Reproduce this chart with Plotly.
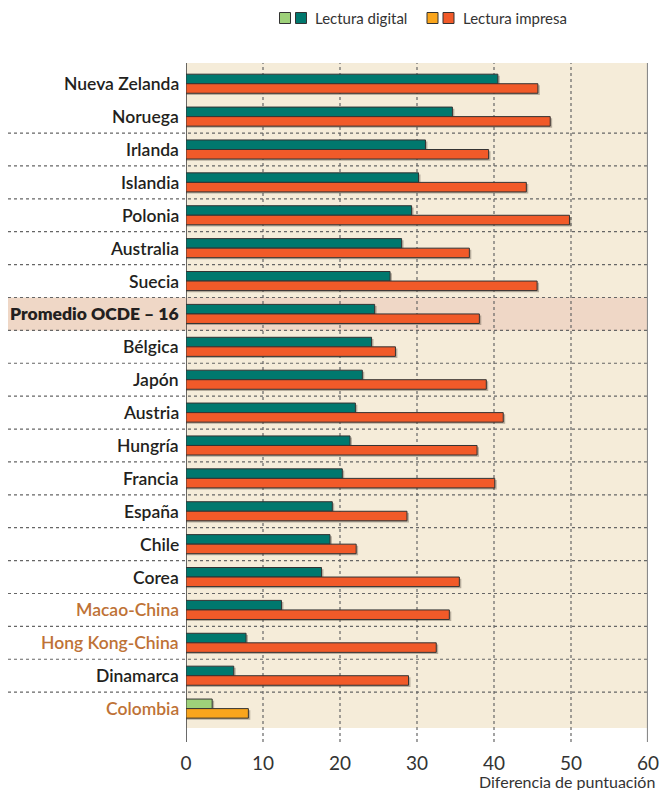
import plotly.graph_objects as go

countries = ["Nueva Zelanda", "Noruega", "Irlanda", "Islandia", "Polonia", "Australia",
             "Suecia", "Promedio OCDE – 16", "Bélgica", "Japón", "Austria", "Hungría",
             "Francia", "España", "Chile", "Corea", "Macao-China", "Hong Kong-China",
             "Dinamarca", "Colombia"]
digital = [40.5, 34.6, 31.1, 30.2, 29.3, 28.0, 26.5, 24.5, 24.1, 22.9, 22.0, 21.3,
           20.3, 19.0, 18.7, 17.6, 12.4, 7.8, 6.2, 3.4]
impresa = [45.7, 47.3, 39.3, 44.2, 49.8, 36.8, 45.6, 38.1, 27.2, 39.0, 41.2, 37.8,
           40.1, 28.7, 22.1, 35.5, 34.2, 32.5, 28.9, 8.1]
partner = ["Macao-China", "Hong Kong-China", "Colombia"]
highlight_country = "Colombia"
average_label = "Promedio OCDE – 16"
x_ticks = [0, 10, 20, 30, 40, 50, 60]
x_title = "Diferencia de puntuación"
legend_labels = ["Lectura digital", "Lectura impresa"]

C_DIG, C_DIG_L = "#00786E", "#9ED17A"
C_IMP, C_IMP_L = "#F15A29", "#F9A51C"
BG = "#F5ECD9"
BAND = "#EFD7C6"
DARK = "#231F20"
BROWN = "#BE7236"
FONT = "Lato"

W, H = 662, 790
PL, PR, PT, PB = 186, 648, 63, 728   # plot area in page pixels


def px(xp):
    return (xp - PL) / (PR - PL)


def py(yp):
    return (PB - yp) / (PB - PT)


n = len(countries)
ys = list(range(n))
BW = 0.29

dig_colors = [C_DIG_L if c == highlight_country else C_DIG for c in countries]
imp_colors = [C_IMP_L if c == highlight_country else C_IMP for c in countries]

fig = go.Figure()
shadow = "rgba(70,60,50,0.35)"
fig.add_trace(go.Bar(y=ys, x=[v + 0.25 for v in digital], orientation="h", base=0,
                     offset=-BW + 0.05, width=BW, marker=dict(color=shadow, line=dict(width=0)),
                     hoverinfo="skip"))
fig.add_trace(go.Bar(y=ys, x=[v + 0.25 for v in impresa], orientation="h", base=0,
                     offset=0.05, width=BW, marker=dict(color=shadow, line=dict(width=0)),
                     hoverinfo="skip"))
fig.add_trace(go.Bar(y=ys, x=digital, orientation="h", name=legend_labels[0],
                     offset=-BW, width=BW,
                     marker=dict(color=dig_colors, line=dict(color="#333333", width=1))))
fig.add_trace(go.Bar(y=ys, x=impresa, orientation="h", name=legend_labels[1],
                     offset=0, width=BW,
                     marker=dict(color=imp_colors, line=dict(color="#333333", width=1))))

shapes = []
ai = countries.index(average_label)
shapes.append(dict(type="rect", xref="paper", yref="y", x0=px(8), x1=1,
                   y0=ai - 0.5, y1=ai + 0.5, fillcolor=BAND, line=dict(width=0), layer="below"))
for i in range(1, n - 1):
    shapes.append(dict(type="line", xref="paper", yref="y", x0=px(8), x1=1,
                       y0=i + 0.5, y1=i + 0.5,
                       line=dict(color="#666666", width=1.2, dash="3px,3px"), layer="below"))
for t in x_ticks:
    if t == x_ticks[0]:
        ln = dict(color="#444444", width=1.6)
    elif t == x_ticks[-1]:
        ln = dict(color="#8a8a8a", width=2.2)
    else:
        ln = dict(color="#666666", width=1.2, dash="3px,3px")
    shapes.append(dict(type="line", xref="x", yref="paper", x0=t, x1=t,
                       y0=py(742), y1=1, line=ln, layer="below"))

sq = [(279.5, C_DIG_L), (295.5, C_DIG), (427, C_IMP_L), (443, C_IMP)]
for x0, col in sq:
    shapes.append(dict(type="rect", xref="paper", yref="paper",
                       x0=px(x0), x1=px(x0 + 11), y0=py(23.5), y1=py(12.5),
                       fillcolor=col, line=dict(color="#333333", width=1)))

annotations = []
for i, c in enumerate(countries):
    col = BROWN if c in partner else DARK
    bold = c == average_label
    annotations.append(dict(xref="paper", yref="y", x=px(181), y=i, text=c,
                            xanchor="right", yanchor="middle", showarrow=False,
                            font=dict(family=FONT, size=17.5, color=col,
                                      weight=800 if bold else 600)))
annotations.append(dict(xref="paper", yref="paper", x=px(313), y=py(18), text=legend_labels[0],
                        xanchor="left", yanchor="middle", showarrow=False,
                        font=dict(family=FONT, size=15, color="#333333")))
annotations.append(dict(xref="paper", yref="paper", x=px(461), y=py(18), text=legend_labels[1],
                        xanchor="left", yanchor="middle", showarrow=False,
                        font=dict(family=FONT, size=15, color="#333333")))
annotations.append(dict(xref="paper", yref="paper", x=px(657), y=py(781), text=x_title,
                        xanchor="right", yanchor="middle", showarrow=False,
                        font=dict(family=FONT, size=16, color="#333333")))

fig.update_layout(
    width=W, height=H, autosize=False,
    margin=dict(l=PL, r=W - PR, t=PT, b=H - PB, pad=0, autoexpand=False),
    paper_bgcolor="white", plot_bgcolor=BG,
    showlegend=False, barmode="overlay",
    shapes=shapes, annotations=annotations,
    xaxis=dict(range=[0, 60], tickvals=x_ticks, showgrid=False, zeroline=False,
               showline=False, ticks="", ticklabelstandoff=22, automargin=False,
               tickfont=dict(family=FONT, size=19, color="#333333")),
    yaxis=dict(range=[n - 1 + 0.59, -0.63], showticklabels=False, showgrid=False,
               zeroline=False, showline=False, automargin=False),
)

fig.write_html("out.html", config={"displayModeBar": False},
               post_script="document.body.style.margin='0';document.body.style.overflow='hidden';")
